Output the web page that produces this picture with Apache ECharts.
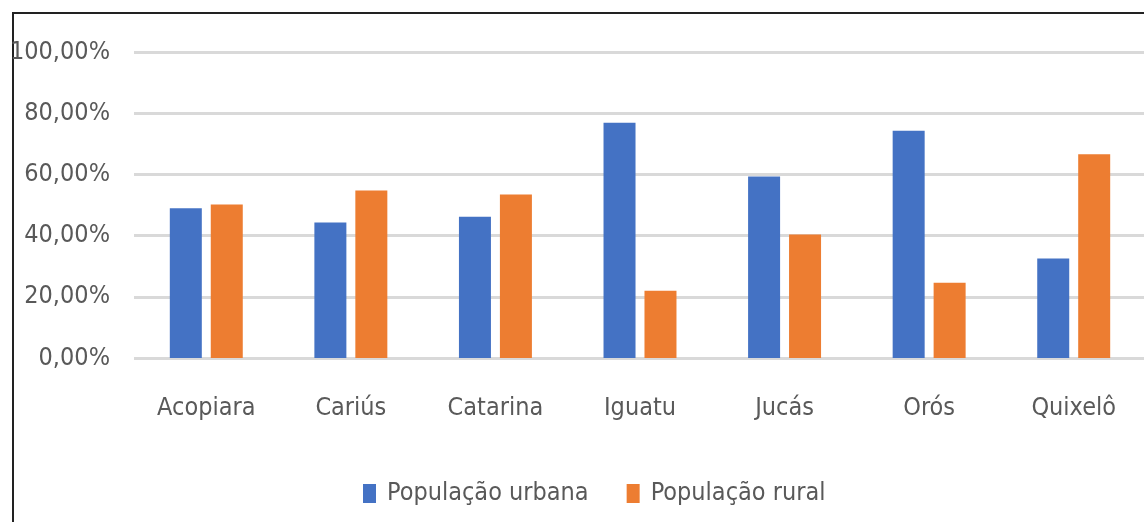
<!DOCTYPE html>
<html>
<head>
<meta charset="utf-8">
<script src="https://cdn.jsdelivr.net/npm/echarts@6/dist/echarts.min.js"></script>
<style>
  html, body { margin: 0; padding: 0; background: #fff; overflow: hidden; }
  #frame {
    position: absolute; left: 12px; top: 12px;
    width: 1200px; height: 600px;
    border: 2px solid #222;
  }
  #myChart { position: absolute; left: 0; top: 0; width: 1144px; height: 522px; }
</style>
</head>
<body>
<div id="frame"></div>
<div id="myChart"></div>
<script>
// municípios
const categories = ['Acopiara', 'Cariús', 'Catarina', 'Iguatu', 'Jucás', 'Orós', 'Quixelô'];
// percentuais
const urbana = [48.9, 44.3, 46.2, 76.9, 59.3, 74.3, 32.5];
const rural = [50.2, 54.7, 53.4, 22.0, 40.4, 24.6, 66.6];
const yTicks = [0, 20, 40, 60, 80, 100];

const font = '"DejaVu Sans Condensed", "Liberation Sans Narrow", sans-serif';

let myChart = echarts.init(document.getElementById('myChart'));
let option = {
  animation: false,
  legend: {
    data: ['População urbana', 'População rural'],
    left: 358,
    top: 476,
    itemWidth: 13,
    itemHeight: 19,
    itemGap: 38,
    icon: 'rect',
    textStyle: { fontFamily: font, fontSize: 25, color: '#595959', padding: [0, 0, 0, 6] }
  },
  grid: {
    left: 134,
    top: 52,
    width: 1012,
    height: 306,
    outerBoundsMode: 'none'
  },
  xAxis: {
    type: 'category',
    data: categories,
    axisLine: { show: false },
    axisTick: { show: false },
    axisLabel: { interval: 0, fontFamily: font, fontSize: 25, color: '#595959', margin: 38 }
  },
  yAxis: {
    type: 'value',
    min: yTicks[0],
    max: yTicks[yTicks.length - 1],
    interval: 20,
    axisLine: { show: false },
    axisTick: { show: false },
    splitLine: { lineStyle: { color: '#d9d9d9', width: 3 } },
    axisLabel: {
      fontFamily: font, fontSize: 25, color: '#595959', margin: 24,
      formatter: v => v.toFixed(2).replace('.', ',') + '%'
    }
  },
  series: [
    {
      name: 'População urbana',
      type: 'bar',
      data: urbana,
      barWidth: 32,
      barGap: '28%',
      itemStyle: { color: '#4472c4' }
    },
    {
      name: 'População rural',
      type: 'bar',
      data: rural,
      barWidth: 32,
      itemStyle: { color: '#ed7d31' }
    }
  ]
};
myChart.setOption(option);
</script>
</body>
</html>
